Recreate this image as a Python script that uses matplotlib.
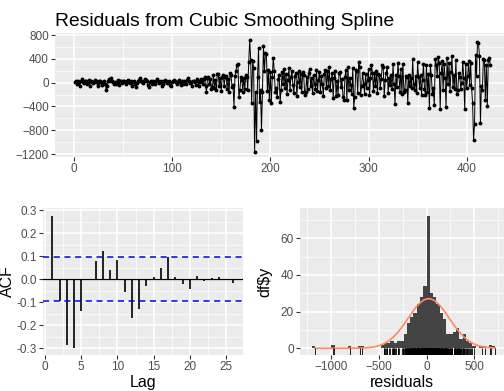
import numpy as np
import matplotlib
matplotlib.use("Agg")
import matplotlib.pyplot as plt

plt.rcParams['font.family'] = ['Liberation Sans', 'DejaVu Sans']

# residuals, in time order
residuals = [
    10, 25, -20, 30, 5, -50, 22, 55, 15, -10,
    20, 32, -30, 8, 45, -60, 28, 12, -5, 18,
    40, 26, 15, -25, -65, 22, 30, 4, -40, 18,
    26, -15, -130, -55, 30, 60, 33, 70, 25, 10,
    -20, 15, -30, 8, 40, -45, 20, 31, -8, 24,
    34, 12, -28, 22, 50, 18, -10, 28, -60, 6,
    30, -20, -70, -10, 24, 48, 75, 29, 16, -5,
    33, 65, 42, 20, -38, -75, 5, 32, -18, 12,
    27, 8, -30, 21, 58, 26, -12, 14, 30, -55,
    -25, 22, 45, 34, -8, 10, 31, -33, -50, 16,
    27, 52, 33, 5, -22, 14, 38, 20, -42, 30,
    -15, 29, 18, -28, 44, 80, 24, -12, 10, -62,
    20, 34, 7, -36, 56, 29, -52, 11, 68, 34,
    -25, 60, 90, -60, -150, 80, 100, -20, 55, -100,
    -80, 120, -90, 45, -130, 150, 140, -60, 80, -140,
    90, 130, -50, 100, 110, -100, 60, -160, 160, 120,
    -80, -45, -410, 110, 200, 300, 320, -250, -120, 90,
    50, -150, 80, -100, 120, 100, -120, 340, 720, 380,
    -350, 360, 250, -1170, -150, -980, 100, 580, -320, -120,
    -800, -150, 610, 200, 500, 480, -140, 210, -300, 180,
    -340, 100, 420, 200, -150, -90, -250, 55, 120, -330,
    -120, 180, -20, 230, -90, 140, -190, 50, 250, -130,
    90, 200, -45, -180, 110, 160, -220, 15, 190, -80,
    150, -150, 175, 120, -200, -165, 100, -110, 170, 235,
    -60, 80, -175, 130, -25, -100, 210, -140, 40, 180,
    -160, 105, -15, -230, 145, 215, -85, 200, -50, 260,
    -125, 65, 155, -260, 85, 195, -230, 25, -210, 165,
    185, -75, 55, -235, -290, 95, 220, -300, 270, -130,
    75, -40, -190, 250, -420, -250, 205, 190, -170, 350,
    270, -200, -55, 165, -20, -185, 150, -95, 45, 225,
    -215, 70, 300, 160, -135, 160, -65, 200, -175, 150,
    120, -90, 60, 300, 255, -230, 40, 160, 270, -180,
    85, -45, 120, -110, 310, -20, -360, 130, -80, 330,
    105, -150, 225, -190, 320, -155, -120, 115, 90, -350,
    125, -60, 80, -95, 390, -15, -130, 110, -180, 340,
    100, -85, 135, -200, 45, 315, -105, -210, 290, -160,
    150, -430, 290, 120, -190, -90, -380, 400, 300, 110,
    430, 335, -450, 160, 360, -125, 320, 75, -415, 410,
    -30, 325, -140, 185, 440, -75, 130, -110, 385, -185,
    -120, 170, 95, -100, -10, 350, 85, -450, 305, -90,
    105, 370, -40, 330, -85, -345, -970, -700, 465, 110,
    680, 660, 450, -680, -50, -120, 395, 380, -300, 300,
    -390, 380, 420, 300,
]

# ACF, lags 1..26
lags = list(range(1, 27))
acf_vals = [0.275, -0.095, -0.285, -0.300, -0.140, 0.000, 0.080, 0.120, 0.040, 0.085,
            -0.055, -0.170, -0.130, -0.030, 0.008, 0.050, 0.095, 0.010, -0.020, -0.045,
            0.015, -0.008, 0.005, 0.008, 0.002, -0.015]

nbins = 55  # histogram bin count

res = np.array(residuals, dtype=float)
n = len(res)
t = np.arange(1, n + 1)

BG = '#EBEBEB'
TXT = '#4D4D4D'


def gg_style(ax):
    ax.set_facecolor(BG)
    for s in ax.spines.values():
        s.set_visible(False)
    ax.grid(True, which='major', color='white', lw=1.1)
    ax.grid(True, which='minor', color='white', lw=0.5)
    ax.set_axisbelow(True)
    ax.tick_params(which='major', length=3, width=0.8, color='#333333',
                   labelcolor=TXT, labelsize=8.5, pad=1.5)
    ax.tick_params(which='minor', length=0)


W, H = 504, 391
fig = plt.figure(figsize=(W / 100, H / 100), dpi=100)


def box(l, r, top, bot):
    return [l / W, 1 - bot / H, (r - l) / W, (bot - top) / H]


# top: residual series
ax1 = fig.add_axes(box(55, 504, 33, 157))
gg_style(ax1)
ax1.plot(t, res, color='black', lw=0.7)
ax1.plot(t, res, 'o', color='black', ms=1.8)
ax1.set_xlim(-19.3, 438)
ax1.set_ylim(-1250, 834)
ax1.set_xticks([0, 100, 200, 300, 400])
ax1.set_xticks([50, 150, 250, 350], minor=True)
ax1.set_yticks([-1200, -800, -400, 0, 400, 800])
ax1.set_yticks([-1000, -600, -200, 200, 600], minor=True)
ax1.set_title('Residuals from Cubic Smoothing Spline', loc='left', fontsize=13.9,
              pad=5, x=0.0)

# bottom-left: ACF
ax2 = fig.add_axes(box(43, 243, 208, 355))
gg_style(ax2)
ax2.vlines(lags, 0, acf_vals, color='black', lw=1.2)
ax2.axhline(0, color='black', lw=0.9)
ci = 1.96 / np.sqrt(n)
ax2.axhline(ci, color='#0000FF', lw=1.1, ls=(0, (4, 3)))
ax2.axhline(-ci, color='#0000FF', lw=1.1, ls=(0, (4, 3)))
ax2.set_xlim(-0.28, 27.35)
ax2.set_ylim(-0.330, 0.309)
ax2.set_xticks([0, 5, 10, 15, 20, 25])
ax2.set_xticks([2.5, 7.5, 12.5, 17.5, 22.5], minor=True)
ax2.set_yticks([-0.3, -0.2, -0.1, 0.0, 0.1, 0.2, 0.3])
ax2.set_yticks([-0.25, -0.15, -0.05, 0.05, 0.15, 0.25], minor=True)
ax2.set_yticklabels(['-0.3', '-0.2', '-0.1', '0.0', '0.1', '0.2', '0.3'])
ax2.set_xlabel('Lag', fontsize=11.5, labelpad=1)
ax2.set_ylabel('ACF', fontsize=11.5)
ax2.yaxis.set_label_coords(-0.14, 0.5)

# bottom-right: histogram with normal curve and rug
ax3 = fig.add_axes(box(300, 504, 208, 355))
gg_style(ax3)
bw = (res.max() - res.min()) / nbins
edges = np.arange(np.floor(res.min() / bw), np.ceil(res.max() / bw) + 1) * bw
ax3.hist(res, bins=edges, color='#444444')
mu, sd = res.mean(), res.std(ddof=1)
xg = np.linspace(min(res.min(), mu - 3 * sd), max(res.max(), mu + 3 * sd), 512)
yg = n * bw * np.exp(-0.5 * ((xg - mu) / sd) ** 2) / (sd * np.sqrt(2 * np.pi))
ax3.plot(xg, yg, color='#ff8a62', lw=1.2)
ax3.vlines(res, 0, 0.045, transform=ax3.get_xaxis_transform(), color='black', lw=0.6)
ax3.set_xlim(-1325, 811)
ax3.set_ylim(-3.65, 76.5)
ax3.set_xticks([-1000, -500, 0, 500])
ax3.set_xticks([-1250, -750, -250, 250, 750], minor=True)
ax3.set_yticks([0, 20, 40, 60])
ax3.set_yticks([10, 30, 50, 70], minor=True)
ax3.set_xlabel('residuals', fontsize=11.5, labelpad=1)
ax3.set_ylabel('df$y', fontsize=11.5)
ax3.yaxis.set_label_coords((272 - 300) / 204, 0.5)

fig.savefig('out.png', dpi=100)
